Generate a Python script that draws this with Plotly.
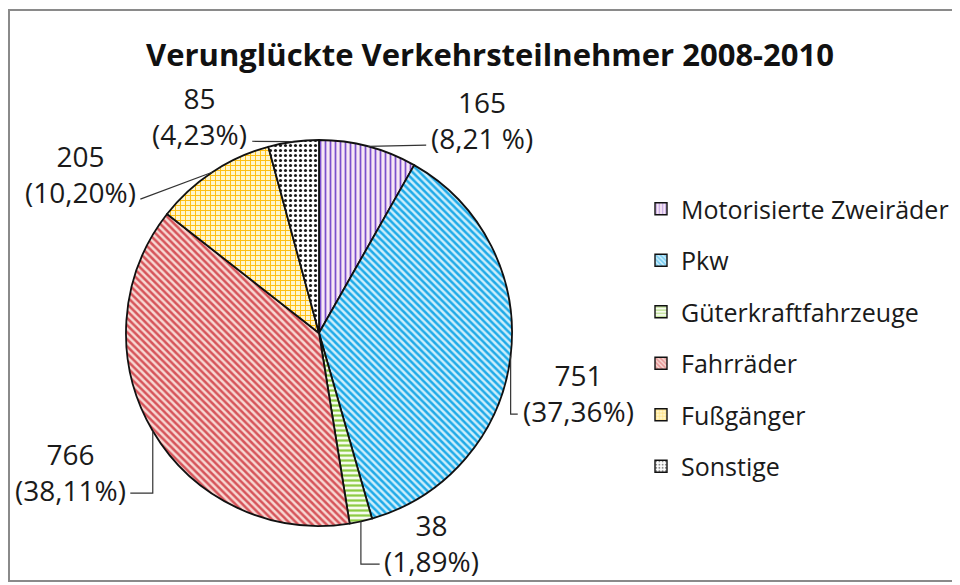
import math
import plotly.graph_objects as go

# ---------------- data ----------------
categories = ["Motorisierte Zweiräder", "Pkw", "Güterkraftfahrzeuge",
              "Fahrräder", "Fußgänger", "Sonstige"]
values = [165, 751, 38, 766, 205, 85]
pct_labels = ["8,21 %", "37,36%", "1,89%", "38,11%", "10,20%", "4,23%"]
title_text = "Verunglückte Verkehrsteilnehmer 2008-2010"

# ---------------- styles ----------------
fg_colors = ["#7A4FCC", "#1FAAE8", "#8DCB45", "#D6545A", "#FFBE10", "#1A1A1A"]
bg_colors = ["#F7E6F4", "#CDEEFB", "#F6FBEF", "#F7D8D3", "#FFF6CC", "#FFFFFF"]
pat_shapes = ["|", "\\", "-", "\\", "+", "."]
pat_solid = [0.35, 0.5, 0.45, 0.5, 0.35, 0.3]

W, H = 960, 585
OFF = 8                             # page body margin of the html page
CX, CY, R = 319, 333, 193          # pie centre / radius in (screen) pixels
FONT = "Open Sans"
LFS = 28                            # label font size
LH = 1.3 * LFS

# label block centres, relative to pie centre, in units of radius
label_offsets = [(0.845, -1.104), (1.342, 0.311), (0.585, 1.088),
                 (-1.29, 0.72), (-1.238, -0.824), (-0.617, -1.124)]
leader_kind = ["straight", "elbow", "elbow", "elbow", "straight", "straight"]


def px(x):
    return (x - OFF) / W


def py(y):
    return 1 - (y - OFF) / H


CHARW = {"(": 0.296, ")": 0.296, ",": 0.245, "%": 0.823, " ": 0.26}


def text_w(s, fs):
    return sum(CHARW.get(c, 0.572) for c in s) * fs


fig = go.Figure()

fig.add_trace(go.Pie(
    labels=categories, values=values, sort=False, direction="clockwise",
    rotation=0, textinfo="none", hoverinfo="label+value+percent",
    showlegend=False,
    marker=dict(colors=bg_colors, line=dict(color="#111111", width=1.8),
                pattern=dict(shape=pat_shapes, fgcolor=fg_colors,
                             bgcolor=bg_colors, size=5, solidity=pat_solid,
                             fillmode="replace")),
    domain=dict(x=[px(CX - R), px(CX + R)], y=[py(CY + R), py(CY - R)]),
))

# legend proxies (one group each so spacing can be set)
for i, c in enumerate(categories):
    fig.add_trace(go.Bar(
        x=[None], y=[None], name=c, legendgroup=c, showlegend=True,
        marker=dict(color=bg_colors[i], line=dict(color="#111111", width=1.4),
                    pattern=dict(shape=pat_shapes[i], fgcolor=fg_colors[i],
                                 bgcolor=bg_colors[i], size=4,
                                 solidity=pat_solid[i])),
    ))

# labels + leader lines
total = sum(values)
cum = 0
annotations = []
shapes = []
for i, v in enumerate(values):
    mid = (cum + v / 2) / total * 2 * math.pi
    cum += v
    ax = CX + R * math.sin(mid)
    ay = CY - R * math.cos(mid)
    lx = CX + label_offsets[i][0] * R
    ly = CY + label_offsets[i][1] * R
    annotations.append(dict(
        x=px(lx), y=py(ly), xref="paper", yref="paper", showarrow=False,
        xanchor="center", yanchor="middle",
        text=f"{values[i]}<br>({pct_labels[i]})",
        font=dict(family=FONT, size=LFS, color="#1a1a1a")))
    w2 = text_w("(" + pct_labels[i] + ")", LFS)
    ly2 = ly + LH / 2
    if lx > ax:
        ex = lx - w2 / 2 - 5
    else:
        ex = lx + w2 / 2 + 5
    if leader_kind[i] == "elbow":
        ey = ly2 + 3
        path = f"M{px(ax)},{py(ay)} L{px(ax)},{py(ey)} L{px(ex)},{py(ey)}"
    else:
        ey = ly2 + 7
        path = f"M{px(ax)},{py(ay)} L{px(ex)},{py(ey)}"
    shapes.append(dict(type="path", xref="paper", yref="paper", path=path,
                       line=dict(color="#333333", width=1.2)))

# chart frame
shapes.append(dict(type="rect", xref="paper", yref="paper",
                   x0=px(9), x1=px(957), y0=py(581), y1=py(10),
                   line=dict(color="#8a8a8a", width=2), layer="above"))

fig.update_layout(
    width=W, height=H, margin=dict(l=0, r=0, t=0, b=0),
    paper_bgcolor="white", plot_bgcolor="rgba(0,0,0,0)",
    title=dict(text=f"<b>{title_text}</b>", x=px(490), xanchor="center",
               y=py(55), yanchor="middle",
               font=dict(family=FONT, size=31, color="#111111")),
    xaxis=dict(visible=False), yaxis=dict(visible=False),
    legend=dict(x=px(641), y=py(186), xanchor="left", yanchor="top",
                font=dict(family=FONT, size=25, color="#1a1a1a"),
                tracegroupgap=16, traceorder="grouped",
                bgcolor="rgba(0,0,0,0)"),
    annotations=annotations, shapes=shapes,
)

fig.write_html("out.html")
